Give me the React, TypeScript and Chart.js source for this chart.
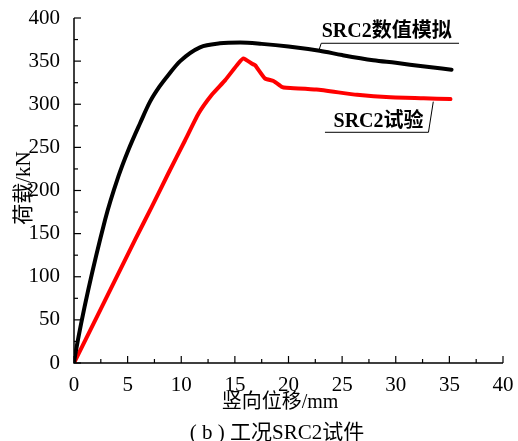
import React, { useEffect, useRef } from "react";
import { Chart, registerables } from "chart.js";

Chart.register(...registerables);

// Simulation curve (SRC2数值模拟)
const simX = [0, 0.12, 2.9, 4.13, 5.07, 6.16, 7.09, 8.0, 8.8, 9.9, 11.75, 13.6, 15.5, 17.5, 20, 22.9, 25, 27.9, 30, 32.5, 35.2];
const simY = [0, 10, 166, 216, 247, 278, 303, 321, 334, 350, 366, 370.6, 371.5, 370, 367, 362, 357, 351, 348, 344, 340];

// Test curve (SRC2试验)
const testX = [0, 5.7, 7.25, 8.8, 10.35, 11.6, 12.85, 14.1, 15.3, 15.8, 16.6, 16.9, 17.8, 18.6, 19.4, 19.8, 22.6, 26.4, 29.5, 32.6, 35.1];
const testY = [0, 143, 181, 220, 258, 289, 311, 328, 347, 353, 347, 345, 330, 327, 320, 319, 317, 311, 308, 307, 306];

const xMajorTicks = [0, 5, 10, 15, 20, 25, 30, 35, 40];
const yMajorTicks = [0, 50, 100, 150, 200, 250, 300, 350, 400];

const xTitle = "竖向位移/mm";
const yTitle = "荷载/kN";
const caption = "( b ) 工况SRC2试件";
const simLabel = "SRC2数值模拟";
const testLabel = "SRC2试验";

const FONT = "'Liberation Serif', 'Noto Sans CJK SC', serif";

export default function App() {
  const ref = useRef<HTMLCanvasElement | null>(null);

  useEffect(() => {
    const canvas = ref.current;
    if (!canvas) return;

    const axesPlugin = {
      id: "axesPlugin",
      afterDraw(chart: any) {
        const ctx = chart.ctx;
        const xs = chart.scales.x;
        const ys = chart.scales.y;
        const { left, bottom } = chart.chartArea;
        ctx.save();
        ctx.strokeStyle = "#000";
        ctx.lineWidth = 1.5;
        ctx.beginPath();
        ctx.moveTo(left, ys.getPixelForValue(400));
        ctx.lineTo(left, bottom);
        ctx.lineTo(xs.getPixelForValue(40), bottom);
        ctx.stroke();
        ctx.lineWidth = 1.2;
        for (let v = 0; v <= 40.001; v += 2.5) {
          const px = xs.getPixelForValue(v);
          const major = Math.abs(v / 5 - Math.round(v / 5)) < 1e-6;
          ctx.beginPath();
          ctx.moveTo(px, bottom);
          ctx.lineTo(px, bottom - (major ? 7 : 4));
          ctx.stroke();
        }
        for (let v = 0; v <= 400.001; v += 25) {
          const py = ys.getPixelForValue(v);
          const major = v % 50 === 0;
          ctx.beginPath();
          ctx.moveTo(left, py);
          ctx.lineTo(left + (major ? 7 : 4), py);
          ctx.stroke();
        }

        ctx.fillStyle = "#000";
        ctx.textAlign = "center";
        ctx.textBaseline = "middle";
        ctx.font = `20px ${FONT}`;
        ctx.fillText(xTitle, 280, 403);
        ctx.font = `21px ${FONT}`;
        ctx.fillText(caption, 277, 433);
        ctx.save();
        ctx.translate(24, 188);
        ctx.rotate(-Math.PI / 2);
        ctx.font = `21px ${FONT}`;
        ctx.fillText(yTitle, 0, 0);
        ctx.restore();

        ctx.font = `bold 20px ${FONT}`;
        ctx.textAlign = "left";
        ctx.textBaseline = "alphabetic";
        ctx.lineWidth = 1;
        ctx.fillText(simLabel, xs.getPixelForValue(23.1), ys.getPixelForValue(378));
        ctx.beginPath();
        ctx.moveTo(xs.getPixelForValue(22.85), ys.getPixelForValue(363));
        ctx.lineTo(xs.getPixelForValue(23.05), ys.getPixelForValue(370.7));
        ctx.lineTo(xs.getPixelForValue(35.9), ys.getPixelForValue(370.7));
        ctx.stroke();
        ctx.fillText(testLabel, xs.getPixelForValue(24.2), ys.getPixelForValue(273.6));
        ctx.beginPath();
        ctx.moveTo(xs.getPixelForValue(23.4), ys.getPixelForValue(267.5));
        ctx.lineTo(xs.getPixelForValue(33.05), ys.getPixelForValue(267.5));
        ctx.lineTo(xs.getPixelForValue(33.5), ys.getPixelForValue(303));
        ctx.stroke();
        ctx.restore();
      },
    };

    const chart = new Chart(canvas, {
      type: "scatter",
      data: {
        datasets: [
          {
            label: simLabel,
            data: simX.map((x, i) => ({ x, y: simY[i] })),
            showLine: true,
            borderColor: "#000000",
            borderWidth: 4,
            pointRadius: 0,
            cubicInterpolationMode: "monotone",
            borderCapStyle: "round",
            borderJoinStyle: "round",
          },
          {
            label: testLabel,
            data: testX.map((x, i) => ({ x, y: testY[i] })),
            showLine: true,
            borderColor: "#ff0000",
            borderWidth: 4,
            pointRadius: 0,
            tension: 0.15,
            borderCapStyle: "round",
            borderJoinStyle: "round",
          },
        ],
      },
      options: {
        responsive: false,
        animation: false,
        layout: { padding: { left: 0, right: 15, top: 18, bottom: 48 } },
        plugins: { legend: { display: false }, tooltip: { enabled: false } },
        scales: {
          x: {
            type: "linear",
            min: 0,
            max: 40,
            grid: { display: false },
            border: { display: false },
            afterBuildTicks: (s: any) => {
              s.ticks = xMajorTicks.map((v) => ({ value: v }));
            },
            ticks: {
              color: "#000",
              font: { family: FONT, size: 21 },
              padding: 2,
              maxRotation: 0,
              autoSkip: false,
            },
            afterFit: (s: any) => {
              s.height = 30;
              s.paddingLeft = 0;
              s.paddingRight = 0;
            },
          },
          y: {
            type: "linear",
            min: 0,
            max: 400,
            grid: { display: false },
            border: { display: false },
            afterBuildTicks: (s: any) => {
              s.ticks = yMajorTicks.map((v) => ({ value: v }));
            },
            ticks: {
              color: "#000",
              font: { family: FONT, size: 21 },
              padding: 6,
              autoSkip: false,
            },
            afterFit: (s: any) => {
              s.width = 74;
              s.paddingTop = 0;
              s.paddingBottom = 0;
            },
          },
        },
      },
      plugins: [axesPlugin],
    } as any);

    return () => chart.destroy();
  }, []);

  return (
    <div style={{ position: "absolute", left: 0, top: 0, width: 518, height: 441, background: "#fff" }}>
      <canvas ref={ref} width={518} height={441} />
    </div>
  );
}
